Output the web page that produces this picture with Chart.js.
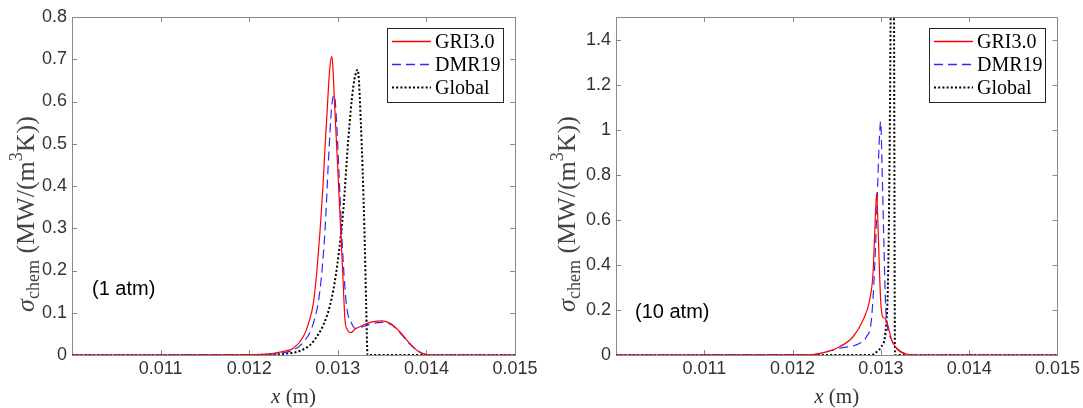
<!DOCTYPE html>
<html>
<head>
<meta charset="utf-8">
<script src="https://cdn.jsdelivr.net/npm/chart.js@4.4.0/dist/chart.umd.min.js"></script>
<style>
  body { margin: 0; background: #fff; }
  #wrap { position: relative; width: 1083px; height: 408px; }
  canvas { position: absolute; top: 0; }
</style>
</head>
<body>
<div id="wrap">
  <canvas id="c1" width="541" height="408" style="left:0"></canvas>
  <canvas id="c2" width="542" height="408" style="left:541px"></canvas>
</div>
<script>
// series names
const seriesNames = ['GRI3.0', 'DMR19', 'Global']

// 1 atm panel
const gri1X = [0.0100, 0.0120, 0.0122, 0.0123, 0.0124, 0.0125, 0.01261, 0.01267, 0.012724, 0.01276, 0.0128, 0.01283, 0.012856, 0.012893, 0.01291, 0.012931, 0.012942, 0.012968, 0.012999, 0.013025, 0.013055, 0.013081, 0.013107, 0.013145, 0.0132, 0.0133, 0.0134, 0.0135, 0.0136, 0.0137, 0.0138, 0.0139, 0.0140, 0.0141, 0.0150]
const gri1Y = [0, 0.0005, 0.002, 0.005, 0.009, 0.016, 0.043, 0.075, 0.122, 0.19, 0.296, 0.39, 0.493, 0.627, 0.68, 0.706, 0.69, 0.575, 0.444, 0.329, 0.198, 0.083, 0.060, 0.053, 0.062, 0.072, 0.079, 0.081, 0.074, 0.055, 0.030, 0.010, 0.001, 0, 0]
const dmr1X = [0.0100, 0.0120, 0.0123, 0.0125, 0.01261, 0.012724, 0.012799, 0.012856, 0.012893, 0.012931, 0.012961, 0.012987, 0.013025, 0.013062, 0.0131, 0.013156, 0.013194, 0.0133, 0.0134, 0.0135, 0.0136, 0.0137, 0.0138, 0.0139, 0.0140, 0.0141, 0.0150]
const dmr1Y = [0, 0.0003, 0.003, 0.012, 0.03, 0.075, 0.154, 0.296, 0.454, 0.588, 0.615, 0.548, 0.375, 0.217, 0.114, 0.075, 0.063, 0.068, 0.075, 0.077, 0.072, 0.053, 0.029, 0.010, 0.001, 0, 0]
const glo1X = [0.0100, 0.0120, 0.0122, 0.0124, 0.0126, 0.012724, 0.012874, 0.01295, 0.013006, 0.013062, 0.013118, 0.013175, 0.013225, 0.01326, 0.0133, 0.01332, 0.013336, 0.0150]
const glo1Y = [0, 0, 0.001, 0.003, 0.012, 0.032, 0.091, 0.154, 0.233, 0.343, 0.509, 0.635, 0.675, 0.55, 0.30, 0.12, 0, 0]

// 10 atm panel
const gri10X = [0.0100, 0.0122, 0.012308, 0.012534, 0.012685, 0.012798, 0.012873, 0.012911, 0.01293, 0.012952, 0.01297, 0.012997, 0.01302, 0.013046, 0.013072, 0.013122, 0.013178, 0.013288, 0.0134, 0.0150]
const gri10Y = [0, 0.001, 0.007, 0.037, 0.081, 0.155, 0.244, 0.363, 0.54, 0.72, 0.54, 0.244, 0.17, 0.163, 0.141, 0.067, 0.03, 0.004, 0, 0]
const dmr10X = [0.0100, 0.0122, 0.012534, 0.01276, 0.012836, 0.012892, 0.01293, 0.012958, 0.012982, 0.012998, 0.013013, 0.013036, 0.013051, 0.013066, 0.013122, 0.013178, 0.013288, 0.0134, 0.0150]
const dmr10Y = [0, 0.001, 0.03, 0.052, 0.081, 0.155, 0.392, 0.688, 0.954, 1.036, 0.836, 0.466, 0.244, 0.15, 0.067, 0.03, 0.004, 0, 0]
const glo10X = [0.0100, 0.0129, 0.01293, 0.013005, 0.013058, 0.013088, 0.013112, 0.01313, 0.013148, 0.01316, 0.0150]
const glo10Y = [0, 0, 0.007, 0.037, 0.126, 0.5, 1.6, 3.0, 1.6, 0, 0]

// axes
const xMin = 0.010, xMax = 0.015, xStep = 0.001
const yMax1 = 0.8, yStep1 = 0.1
const yMax10 = 1.5, yStep10 = 0.2
const notes = ['(1 atm)', '(10 atm)']
const xTitleParts = ['x', ' (m)']
const yTitleParts = ['σ', 'chem', ' (MW/(m', '3', 'K))']

const serif = '"Liberation Serif", "DejaVu Serif", serif'
const sans = '"Liberation Sans", Arial, sans-serif'

function pts(xs, ys) {
  return xs.map((x, i) => ({x: x, y: ys[i]}))
}

// draws text pieces side by side, centred on cx
function drawParts(ctx, parts, cx, cy) {
  let total = 0
  parts.forEach(p => { ctx.font = p.font; total += ctx.measureText(p.text).width })
  let x = cx - total / 2
  parts.forEach(p => {
    ctx.font = p.font
    ctx.fillText(p.text, x, cy + p.dy)
    x += ctx.measureText(p.text).width
  })
}

// box, inward ticks on all four sides
const boxPlugin = {
  id: 'box',
  beforeDatasetsDraw(chart) {
    const {ctx, chartArea: a, scales: {x, y}} = chart
    ctx.save()
    ctx.strokeStyle = '#8a8a8a'
    ctx.lineWidth = 1
    ctx.strokeRect(Math.round(a.left) + 0.5, Math.round(a.top) + 0.5, Math.round(a.right - a.left), Math.round(a.bottom - a.top))
    ctx.beginPath()
    x.ticks.forEach(t => {
      const px = Math.round(x.getPixelForValue(t.value)) + 0.5
      ctx.moveTo(px, a.bottom); ctx.lineTo(px, a.bottom - 5)
      ctx.moveTo(px, a.top); ctx.lineTo(px, a.top + 5)
    })
    y.ticks.forEach(t => {
      const py = Math.round(y.getPixelForValue(t.value)) + 0.5
      ctx.moveTo(a.left, py); ctx.lineTo(a.left + 5, py)
      ctx.moveTo(a.right, py); ctx.lineTo(a.right - 5, py)
    })
    ctx.stroke()
    ctx.restore()
  }
}

// legend, note and axis titles
const decoPlugin = {
  id: 'deco',
  afterDatasetsDraw(chart, args, opts) {
    const {ctx, chartArea: a, scales: {x, y}} = chart
    ctx.save()

    // legend
    const w = 116, h = 74
    const bx = Math.round(a.right) - 12 - w, by = Math.round(a.top) + 11
    ctx.fillStyle = '#fff'
    ctx.fillRect(bx, by, w, h)
    ctx.strokeStyle = '#262626'
    ctx.lineWidth = 1
    ctx.strokeRect(bx + 0.5, by + 0.5, w, h)
    ctx.font = '20px ' + serif
    ctx.textBaseline = 'middle'
    chart.data.datasets.forEach((ds, i) => {
      const yy = by + 13.5 + i * 23
      ctx.save()
      ctx.strokeStyle = ds.borderColor
      ctx.lineWidth = Math.max(ds.borderWidth, 1.4)
      ctx.setLineDash(ds.borderDash || [])
      ctx.beginPath(); ctx.moveTo(bx + 5, yy); ctx.lineTo(bx + 44, yy); ctx.stroke()
      ctx.restore()
      ctx.fillStyle = '#000'
      ctx.fillText(ds.label, bx + 48, yy + 1)
    })

    // pressure note
    ctx.font = '20px ' + sans
    ctx.fillStyle = '#000'
    ctx.textBaseline = 'middle'
    ctx.fillText(opts.note, x.getPixelForValue(opts.noteX), y.getPixelForValue(opts.noteY))

    // x title
    ctx.fillStyle = '#333'
    drawParts(ctx, [
      {text: xTitleParts[0], font: 'italic 21px ' + serif, dy: 0},
      {text: xTitleParts[1], font: '21px ' + serif, dy: 0}
    ], (a.left + a.right) / 2, 397)

    // y title
    ctx.fillStyle = '#444'
    ctx.translate(27, 214)
    ctx.rotate(-Math.PI / 2)
    drawParts(ctx, [
      {text: yTitleParts[0], font: 'italic 26px ' + serif, dy: 0},
      {text: yTitleParts[1], font: '18px ' + serif, dy: 7},
      {text: yTitleParts[2], font: '26px ' + serif, dy: 0},
      {text: yTitleParts[3], font: '18px ' + serif, dy: -10},
      {text: yTitleParts[4], font: '26px ' + serif, dy: 0}
    ], 0, 0)
    ctx.restore()
  }
}

function makeChart(id, sets, yMax, yStep, yWidth, padRight, note, noteX, noteY) {
  const styles = [
    {borderColor: '#ff0000', borderWidth: 1.2, borderDash: []},
    {borderColor: '#2b2bff', borderWidth: 1.2, borderDash: [9, 5]},
    {borderColor: '#000000', borderWidth: 2, borderDash: [2, 2.2]}
  ]
  return new Chart(document.getElementById(id), {
    type: 'line',
    data: {
      datasets: sets.map((d, i) => Object.assign({
        label: seriesNames[i],
        data: d,
        pointRadius: 0,
        fill: false,
        cubicInterpolationMode: 'monotone'
      }, styles[i]))
    },
    options: {
      responsive: false,
      animation: false,
      layout: {padding: {left: 0, right: padRight, top: 17, bottom: 0}},
      plugins: {
        legend: {display: false},
        tooltip: {enabled: false},
        deco: {note: note, noteX: noteX, noteY: noteY}
      },
      scales: {
        x: {
          type: 'linear',
          min: xMin,
          max: xMax,
          grid: {display: false, drawTicks: false},
          border: {display: false},
          ticks: {
            stepSize: xStep,
            color: '#333',
            font: {family: sans, size: 18},
            padding: 3,
            maxRotation: 0,
            callback: v => v < 0.0105 ? '' : v.toFixed(3)
          },
          afterFit: s => { s.height = 53 }
        },
        y: {
          min: 0,
          max: yMax,
          grid: {display: false, drawTicks: false},
          border: {display: false},
          ticks: {
            stepSize: yStep,
            includeBounds: false,
            color: '#333',
            font: {family: sans, size: 18},
            padding: 5,
            callback: v => Number(v.toFixed(2)).toString()
          },
          afterFit: s => { s.width = yWidth }
        }
      }
    },
    plugins: [boxPlugin, decoPlugin]
  })
}

makeChart('c1', [pts(gri1X, gri1Y), pts(dmr1X, dmr1Y), pts(glo1X, glo1Y)],
  yMax1, yStep1, 72, 26, notes[0], 0.010226, 0.154)
makeChart('c2', [pts(gri10X, gri10Y), pts(dmr10X, dmr10Y), pts(glo10X, glo10Y)],
  yMax10, yStep10, 75, 25, notes[1], 0.010215, 0.19)
</script>
</body>
</html>
